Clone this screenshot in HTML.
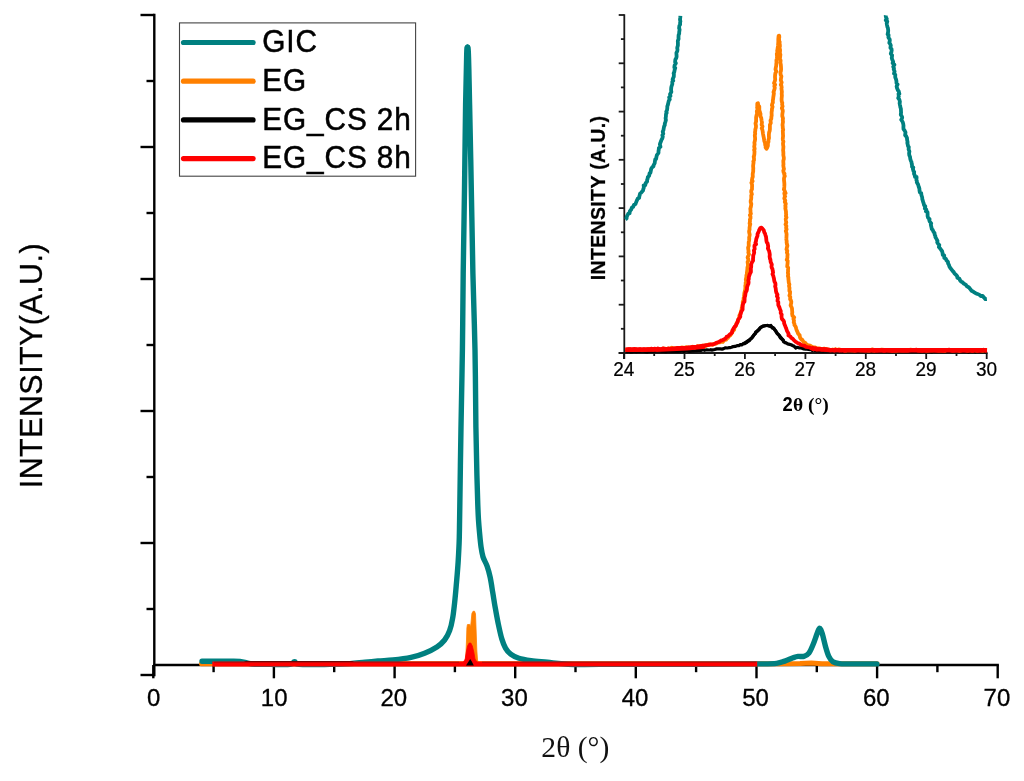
<!DOCTYPE html>
<html><head><meta charset="utf-8"><title>XRD</title>
<style>
html,body{margin:0;padding:0;background:#fff;}
svg{display:block;}
text{white-space:pre;}
</style></head>
<body>
<svg width="1024" height="781" viewBox="0 0 1024 781">
<rect width="1024" height="781" fill="#fff"/>
<g stroke="#000" stroke-width="2.4" fill="none">
<path d="M154.3 13.8V676.2"/>
<path d="M153.2 665H998.9"/>
<path d="M140.5 15.0H154.3"/>
<path d="M146.5 81.0H154.3"/>
<path d="M140.5 147.0H154.3"/>
<path d="M146.5 213.0H154.3"/>
<path d="M140.5 279.0H154.3"/>
<path d="M146.5 345.0H154.3"/>
<path d="M140.5 411.0H154.3"/>
<path d="M146.5 477.0H154.3"/>
<path d="M140.5 543.0H154.3"/>
<path d="M146.5 609.0H154.3"/>
<path d="M140.5 675.0H154.3"/>
<path d="M153.3 665V678.3"/>
<path d="M213.6 665V672.2"/>
<path d="M273.9 665V678.3"/>
<path d="M334.2 665V672.2"/>
<path d="M394.6 665V678.3"/>
<path d="M454.9 665V672.2"/>
<path d="M515.2 665V678.3"/>
<path d="M575.5 665V672.2"/>
<path d="M635.8 665V678.3"/>
<path d="M696.1 665V672.2"/>
<path d="M756.5 665V678.3"/>
<path d="M816.8 665V672.2"/>
<path d="M877.1 665V678.3"/>
<path d="M937.4 665V672.2"/>
<path d="M997.7 665V678.3"/>
</g>
<g stroke="#1a1a1a" stroke-width="1.8" fill="none">
<path d="M624.3 14.2V359"/>
<path d="M618.7 353H987.5"/>
<path d="M618.7 15.0H624.3"/>
<path d="M620.9 39.1H624.3"/>
<path d="M618.7 63.3H624.3"/>
<path d="M620.9 87.4H624.3"/>
<path d="M618.7 111.6H624.3"/>
<path d="M620.9 135.7H624.3"/>
<path d="M618.7 159.8H624.3"/>
<path d="M620.9 184.0H624.3"/>
<path d="M618.7 208.1H624.3"/>
<path d="M620.9 232.3H624.3"/>
<path d="M618.7 256.4H624.3"/>
<path d="M620.9 280.5H624.3"/>
<path d="M618.7 304.7H624.3"/>
<path d="M620.9 328.8H624.3"/>
<path d="M618.7 353.0H624.3"/>
<path d="M624.0 353V359.0"/>
<path d="M654.2 353V356.0"/>
<path d="M684.5 353V359.0"/>
<path d="M714.7 353V356.0"/>
<path d="M744.9 353V359.0"/>
<path d="M775.1 353V356.0"/>
<path d="M805.4 353V359.0"/>
<path d="M835.6 353V356.0"/>
<path d="M865.8 353V359.0"/>
<path d="M896.0 353V356.0"/>
<path d="M926.2 353V359.0"/>
<path d="M956.5 353V356.0"/>
<path d="M986.7 353V359.0"/>
</g>
<!-- main curves -->
<g fill="none" stroke-width="5" stroke-linejoin="round" stroke-linecap="round">
<path stroke="#ff8000" d="M201.5 663.8L781.0 663.8L800.0 663.6L811.3 662.9L822.0 663.7L834.0 663.8L877.0 663.8"/>
<path stroke="#ff8000" stroke-width="0.8" fill="#ff8000" d="M465.2 664L465.9 655L466.5 640L466.9 628L467.4 624.6L469.7 624.4L470.4 627.5L471 623L471.9 613.5L473 611.3L474.6 611.3L475.5 614L476.1 630L476.8 650L477.5 660L478.8 664Z"/>
<path stroke="#008080" stroke-width="5.4" d="M202.0 661.2C205.8 661.2 218.7 661.3 225.0 661.3C231.3 661.3 236.3 661.1 240.0 661.4C243.7 661.7 244.5 662.5 247.0 663.0C249.5 663.5 251.2 664.1 255.0 664.3C258.8 664.5 264.2 664.4 270.0 664.4C275.8 664.4 285.9 664.9 290.0 664.4C294.1 663.9 293.0 661.6 294.5 661.6C296.0 661.6 293.1 663.9 299.0 664.4C304.9 664.9 321.5 664.5 330.0 664.4C338.5 664.3 344.2 664.0 350.0 663.6C355.8 663.2 360.3 662.6 365.0 662.2C369.7 661.8 373.3 661.4 378.0 661.0C382.7 660.6 387.5 660.6 393.0 660.0C398.5 659.4 405.7 658.5 411.0 657.4C416.3 656.3 420.3 654.9 424.6 653.2C428.9 651.5 433.6 649.2 436.9 647.0C440.2 644.8 442.5 642.7 444.6 640.0C446.7 637.3 448.3 634.3 449.6 630.7C450.9 627.1 451.8 623.2 452.6 618.4C453.5 613.6 454.0 608.1 454.7 602.0C455.4 595.9 456.0 588.3 456.6 581.5C457.2 574.7 457.8 567.8 458.2 561.0C458.6 554.2 459.0 547.3 459.2 540.5C459.4 533.7 459.3 538.9 459.6 520.0C459.9 501.1 460.5 455.3 461.0 427.0C461.5 398.7 462.0 375.6 462.4 350.0C462.8 324.4 462.8 300.3 463.2 273.5C463.6 246.7 464.1 217.2 464.5 189.0C464.9 160.8 465.2 127.0 465.6 104.5C466.0 82.0 466.4 63.5 466.7 54.0C467.0 44.5 467.2 47.6 467.5 47.6C467.8 47.6 468.0 44.5 468.4 54.0C468.8 63.5 469.1 82.0 469.6 104.5C470.1 127.0 470.8 160.8 471.3 189.0C471.9 217.2 472.3 246.7 472.9 273.5C473.5 300.3 474.5 324.4 475.0 350.0C475.5 375.6 475.6 406.2 475.9 427.0C476.2 447.8 476.6 462.0 476.9 475.0C477.2 488.0 477.5 497.5 477.8 505.0C478.1 512.5 478.2 515.5 478.5 520.0C478.8 524.5 479.1 527.9 479.5 532.3C479.9 536.7 480.4 542.5 481.0 546.6C481.6 550.7 482.0 553.6 483.0 556.9C484.0 560.1 485.9 562.7 487.1 566.1C488.3 569.5 489.3 573.1 490.2 577.4C491.1 581.7 491.8 586.6 492.6 591.7C493.5 596.8 494.3 602.6 495.3 608.1C496.3 613.6 497.3 619.4 498.4 624.5C499.5 629.6 500.6 635.0 501.8 638.9C503.0 642.8 504.0 645.5 505.5 648.1C507.0 650.7 508.5 652.5 510.7 654.2C512.9 655.9 515.5 657.2 518.9 658.3C522.3 659.4 526.3 660.0 531.1 660.7C535.9 661.4 541.4 661.7 547.5 662.3C553.6 662.9 559.2 663.9 568.0 664.2C576.8 664.6 578.0 664.4 600.0 664.4C622.0 664.4 673.8 664.3 700.0 664.2C726.2 664.1 744.6 664.0 757.4 663.9C770.1 663.8 771.9 663.9 776.5 663.4C781.1 662.9 782.0 662.0 784.8 661.1C787.6 660.2 790.9 658.6 793.1 657.8C795.3 657.0 796.3 656.6 798.1 656.4C799.9 656.2 802.1 656.9 803.9 656.4C805.7 655.9 807.4 655.0 808.9 653.1C810.4 651.2 811.6 648.1 813.0 644.8C814.4 641.5 816.1 636.0 817.2 633.2C818.3 630.4 818.8 628.2 819.6 628.2C820.4 628.2 821.1 630.2 822.1 633.2C823.1 636.2 824.4 642.6 825.5 646.5C826.6 650.4 827.6 653.9 828.8 656.4C830.0 658.9 831.1 660.6 832.9 661.8C834.7 663.0 835.1 663.2 839.6 663.6C844.1 664.0 853.8 663.9 860.0 663.9C866.2 663.9 874.1 663.9 876.9 663.9"/>
<path stroke="#000" stroke-width="4" d="M246.0 663.1L352.0 663.1"/>
<path stroke="#ff0000" stroke-width="4.9" stroke-linecap="butt" d="M212.3 664.0L757.2 664.0"/>
<path stroke="#4a1a1a" stroke-opacity="0.3" stroke-width="1.6" stroke-linecap="butt" d="M214 662.3H459M482 662.3H756"/>
<path stroke="#ff0000" stroke-width="0.8" fill="#ff0000" d="M461 664L463.5 662L465.2 659L466.3 652L467.6 646L469.2 643L470.8 643L472.3 646L473.8 652L475 659L476.8 662L480 664Z"/>
<path stroke="none" fill="#000" d="M466 665.6L468.6 661.5L470.2 658.9L471.8 661.5L473.8 665.6Z"/>
</g>
<!-- inset curves -->
<g fill="none" stroke-width="3.8" stroke-linejoin="round" stroke-linecap="butt">
<path stroke="#008080" d="M625.4 219.5L626.6 218.4L626.6 217.6L627.0 216.1L628.2 213.8L629.6 213.2L629.8 211.2L631.2 209.6L631.8 207.7L633.1 206.9L634.0 204.8L635.5 204.1L635.7 203.4L636.8 200.6L637.7 198.7L639.2 197.8L639.2 197.1L639.6 195.4L640.1 193.5L641.1 192.8L643.0 190.6L643.3 189.1L643.9 187.3L643.6 185.3L645.2 185.4L645.8 182.8L647.1 181.6L647.1 180.1L647.7 178.3L647.8 177.1L649.1 175.9L649.6 173.1L650.4 173.0L650.9 170.3L651.2 168.8L652.2 167.3L653.5 166.2L653.5 165.4L654.7 163.2L654.8 162.1L655.2 159.5L656.1 159.0L656.5 156.7L656.8 155.3L657.3 154.5L658.5 152.8L658.5 151.3L658.8 149.4L658.9 147.9L660.5 146.7L659.9 144.6L660.1 143.4L661.1 141.0L661.5 139.8L662.3 138.5L662.8 136.6L662.3 135.2L663.3 133.7L662.7 131.8L663.5 129.9L663.6 129.0L664.1 126.3L664.8 125.0L664.8 123.6L665.4 121.8L665.9 120.1L665.6 118.1L665.9 116.7L666.0 114.2L666.7 112.8L666.2 111.8L667.0 110.2L667.3 107.9L667.3 106.4L668.0 104.5L668.4 102.4L668.8 100.8L669.0 100.4L669.8 99.3L669.1 97.4L670.5 96.0L670.0 94.3L671.4 91.9L671.2 91.3L671.1 89.5L671.3 87.2L671.7 85.8L672.3 84.2L672.3 81.8L673.3 80.7L672.6 79.4L673.2 77.8L673.8 76.6L673.9 73.9L673.6 73.4L674.3 71.9L674.7 69.6L675.3 67.9L674.3 67.4L674.6 65.2L675.9 63.3L675.1 62.0L675.4 59.3L676.1 58.4L676.6 56.7L676.5 54.6L676.4 52.8L677.3 51.1L677.5 49.4L677.2 48.0L677.6 46.6L677.9 45.3L677.9 42.7L677.8 41.0L678.6 38.8L678.5 37.5L678.6 35.1L679.2 33.5L679.2 32.1L679.6 29.7L679.1 28.2L679.4 25.6L680.1 24.7L680.1 22.6L680.4 21.4L680.0 19.7L680.1 18.9L680.2 18.0L680.3 17.2L680.4 15.9"/>
<path stroke="#008080" d="M885.8 15.4L885.7 15.9L886.1 17.6L886.8 18.9L885.8 20.2L887.3 21.5L886.7 23.2L887.0 25.1L887.5 27.2L887.9 28.1L888.2 30.6L888.1 32.0L887.6 34.4L888.6 35.0L888.4 37.5L889.7 39.3L889.8 40.6L889.3 42.9L890.3 44.2L890.8 45.4L890.4 47.8L891.5 48.9L891.7 50.2L891.4 52.0L890.8 53.7L892.1 55.2L891.9 57.4L891.7 57.8L892.2 59.5L893.2 61.8L892.6 63.0L894.4 64.7L893.2 66.7L894.0 68.3L893.7 69.3L894.6 71.4L894.0 73.6L895.3 74.7L895.2 76.5L895.3 77.6L896.0 79.2L896.4 80.9L896.5 83.1L897.6 84.4L896.6 86.3L897.0 88.0L897.9 90.2L898.7 91.2L899.4 93.9L898.5 93.8L898.8 96.4L898.2 98.1L899.3 99.4L899.9 101.8L899.6 103.1L899.8 104.3L900.3 106.5L900.3 107.0L900.9 108.8L901.0 111.8L901.1 112.2L900.8 114.7L901.6 116.0L902.2 117.3L902.0 118.5L901.2 119.8L902.7 122.0L903.2 123.8L903.5 125.8L903.4 127.0L903.5 129.1L904.6 130.5L905.5 132.3L905.3 133.8L905.1 135.3L906.1 136.1L907.0 138.1L907.1 139.8L907.6 142.2L907.3 142.8L907.9 145.3L908.1 146.3L908.8 147.1L908.6 149.4L909.4 151.4L909.1 153.3L909.3 155.2L910.0 156.8L910.3 159.0L910.8 160.6L911.4 161.7L911.7 163.7L912.0 164.9L912.0 166.8L913.3 167.5L912.9 168.9L913.6 171.4L914.2 171.8L914.0 173.8L914.7 175.1L915.0 176.9L916.6 176.9L916.4 180.1L916.9 181.1L916.8 182.2L918.1 184.5L918.3 185.2L918.8 187.0L919.4 188.7L919.5 190.4L919.8 192.3L921.2 193.2L921.4 195.0L922.2 197.5L922.3 199.2L922.7 200.2L923.1 201.9L923.7 203.5L924.1 205.3L925.3 206.3L924.8 208.4L926.3 209.6L925.9 211.3L927.5 212.0L927.6 214.2L927.6 216.1L928.0 217.6L929.6 219.1L929.2 219.8L929.6 221.3L931.2 223.4L930.8 224.6L931.3 226.7L931.8 229.1L932.6 229.7L933.6 232.1L934.5 232.9L934.7 234.7L935.4 236.3L935.4 237.3L936.4 238.8L937.5 240.9L937.2 242.3L938.1 243.9L939.3 244.9L938.9 247.1L940.2 248.6L941.2 250.0L942.1 251.2L942.5 252.8L942.8 254.9L944.2 255.4L944.3 257.8L945.9 258.8L946.2 260.0L948.0 262.1L948.1 263.5L948.9 264.7L949.4 266.5L950.5 268.3L951.2 269.1L952.8 271.2L953.5 271.8L954.4 273.3L956.3 275.1L957.1 276.2L957.4 277.8L959.5 278.8L960.0 280.3L961.0 281.4L962.1 281.9L963.8 283.6L965.6 284.6L966.2 285.3L966.7 286.2L969.0 287.5L970.7 289.6L971.5 290.8L973.0 291.5L974.3 292.4L975.6 293.2L977.4 293.9L979.5 294.9L980.8 296.0L982.7 296.0L984.0 297.6L984.7 298.2L985.5 299.2L986.9 299.1"/>
<path stroke="#000" stroke-width="3.2" d="M625.4 351.5L626.1 351.3L627.2 351.6L629.1 351.2L629.6 351.5L630.7 352.0L632.3 351.7L633.4 351.2L635.1 351.4L636.4 351.7L637.8 351.2L640.1 351.4L641.8 351.2L643.5 351.2L645.5 351.7L647.1 351.9L648.9 351.2L651.2 351.5L653.0 351.4L654.9 351.1L656.0 350.9L658.5 350.7L659.7 350.9L662.2 351.4L663.7 351.5L665.9 351.6L667.9 351.0L669.4 351.2L671.2 351.3L672.7 351.4L674.3 351.4L675.9 351.1L677.6 351.4L679.1 351.3L680.0 351.1L682.2 350.5L683.9 351.4L686.2 350.0L688.1 350.9L689.6 351.4L692.1 350.9L693.4 350.8L695.4 350.7L696.6 350.6L698.4 350.5L699.6 350.4L701.4 350.3L702.9 349.8L704.6 350.3L705.3 350.0L706.8 349.8L708.7 350.0L710.4 349.8L710.8 349.7L711.7 350.1L714.7 349.5L716.7 348.9L718.6 348.8L720.4 348.9L722.0 349.1L723.7 348.6L725.5 347.8L727.4 348.0L728.7 347.7L730.0 347.6L731.5 347.3L733.2 346.6L735.1 346.4L737.0 345.7L738.8 345.7L740.3 344.6L742.0 344.8L743.2 343.6L744.7 343.6L747.0 342.3L747.7 341.5L749.5 340.5L750.6 338.9L751.9 337.9L752.9 336.6L754.0 334.7L755.4 333.6L755.6 332.2L757.2 331.2L759.2 329.5L760.0 327.9L760.8 327.2L762.4 326.4L764.4 325.8L766.5 325.5L767.8 325.4L769.4 326.1L770.9 325.5L772.4 328.1L773.7 328.1L774.7 329.8L775.7 330.8L776.2 332.2L777.3 333.8L779.1 335.2L779.4 335.9L780.2 337.7L781.8 339.1L782.9 339.8L783.5 341.6L785.1 342.8L786.0 342.7L787.7 343.9L789.6 344.4L791.1 344.8L792.5 345.5L794.2 346.3L795.9 348.0L796.8 347.3L798.9 347.8L800.6 347.9L802.0 348.3L803.8 349.0L805.5 349.1L807.0 349.2L810.2 349.7L811.4 349.5L812.2 350.3L812.1 350.2L814.0 350.0L814.3 350.3L814.9 350.3L815.0 350.3L815.8 350.3L816.5 350.9L817.7 350.3L818.9 350.8L820.1 350.9L823.0 351.2L825.1 350.6L828.1 350.9L831.8 350.9L835.3 350.6L839.9 351.0L841.3 351.0L842.4 351.4L842.9 350.7L844.1 351.0L845.2 351.2L846.8 351.4L848.0 350.9L849.3 350.8L850.5 350.8L852.2 350.3L853.5 351.3L854.7 351.2L856.2 351.5L858.1 351.1L859.7 350.9L860.8 351.2L861.9 351.2L863.7 351.4L865.3 350.6L866.8 351.1L869.0 351.2L870.4 351.4L872.2 351.1L874.4 351.1L875.4 351.4L877.7 351.0L879.9 351.0L881.6 351.2L884.0 350.6L885.2 351.3L887.3 351.1L888.7 351.6L890.7 351.3L892.7 351.3L894.3 351.0L896.6 351.2L898.9 351.4L900.7 351.2L902.9 351.0L904.4 350.8L906.1 351.5L908.4 350.7L910.4 351.1L912.0 351.3L914.3 351.2L916.6 351.0L918.6 351.1L920.2 351.6L922.3 351.1L924.1 351.3L925.7 351.4L928.1 350.8L929.7 351.5L931.6 351.9L933.5 351.3L935.0 351.2L937.5 351.4L939.6 351.1L942.1 351.5L943.0 351.4L944.2 351.1L947.3 351.1L948.7 350.9L950.7 351.3L952.2 351.5L954.4 351.5L955.1 351.4L957.4 350.9L958.5 351.1L960.5 351.2L962.0 351.3L963.9 351.2L965.5 351.1L966.4 351.3L968.6 352.1L969.1 351.1L970.9 351.3L972.3 351.3L974.2 351.0L975.2 351.8L976.8 350.8L978.4 351.1L979.0 351.1L979.9 351.1L981.4 351.0L981.9 351.1L983.3 350.7L984.5 351.1L985.4 351.7L986.1 351.4L986.9 351.3"/>
<path stroke="#ff8000" d="M625.4 349.8L626.2 349.8L627.7 349.7L628.7 349.4L629.7 349.3L631.2 350.0L632.9 350.0L634.1 349.4L636.0 349.8L638.0 349.6L639.9 349.6L641.6 350.0L643.3 349.6L645.8 349.6L647.5 349.3L649.7 348.8L650.7 349.1L653.3 349.5L654.6 349.0L656.5 349.4L657.8 348.9L659.2 349.3L661.1 349.2L662.9 348.6L664.8 348.7L666.6 349.1L668.2 348.5L670.5 348.8L671.7 347.7L673.6 348.7L675.6 348.2L676.7 348.2L678.7 347.8L680.0 347.8L681.6 347.5L683.1 347.7L684.3 347.9L686.0 347.1L687.3 347.7L689.1 347.7L691.2 347.5L692.8 346.7L695.0 347.5L696.4 346.9L697.6 346.1L699.1 346.8L700.0 346.0L701.4 346.0L704.3 345.4L705.7 346.0L707.5 345.0L708.7 344.5L711.0 344.6L712.7 344.8L714.0 343.9L716.2 343.7L717.8 342.7L719.7 342.4L720.5 341.9L722.8 341.9L724.0 340.1L726.1 339.6L726.7 338.3L727.7 338.0L729.1 336.1L730.2 335.4L731.1 333.9L732.2 332.5L732.7 331.3L734.2 329.7L734.3 327.8L735.4 326.6L736.0 325.1L736.4 323.6L737.4 322.0L738.0 320.9L738.5 319.0L739.4 317.6L739.3 315.8L740.1 314.4L740.4 313.2L741.0 311.8L741.6 309.6L741.8 307.8L742.4 306.5L742.4 305.2L742.9 303.2L742.7 301.9L743.5 300.1L743.6 298.2L743.9 296.8L744.2 294.9L744.3 293.3L744.8 291.1L745.2 289.7L745.4 287.6L745.3 285.8L745.8 284.0L745.6 283.1L746.2 281.7L745.8 279.7L746.0 278.6L746.4 277.0L746.4 275.4L747.1 273.5L746.9 272.7L747.2 270.4L747.4 268.7L747.4 267.7L748.1 265.0L747.9 264.3L747.6 262.1L748.4 260.3L748.2 258.9L747.6 257.5L748.2 256.0L749.0 254.3L748.3 252.6L748.6 251.1L748.2 248.8L748.1 247.6L748.8 245.6L748.7 243.9L748.7 242.3L749.0 241.1L749.3 238.8L749.1 237.8L749.5 235.9L749.7 234.7L749.2 232.5L749.1 231.3L749.6 229.3L749.5 228.0L749.8 225.9L750.3 224.1L749.6 223.6L750.0 221.1L749.9 219.6L750.5 218.3L750.5 216.4L749.9 215.1L750.9 213.7L750.5 212.1L750.5 210.3L750.3 208.7L750.8 207.1L751.0 206.2L751.3 203.9L750.7 202.1L750.7 200.7L751.2 199.0L751.3 197.3L751.2 195.4L751.9 194.2L751.2 191.9L751.3 190.6L752.0 189.2L752.0 187.6L752.1 186.0L752.0 184.2L751.4 182.7L752.6 181.2L751.9 180.3L752.3 178.0L752.8 176.7L752.7 174.9L752.7 173.9L752.9 172.9L753.2 171.4L753.2 169.5L753.3 168.4L753.1 166.0L753.4 163.5L753.6 162.8L753.3 161.4L754.0 160.2L754.0 158.4L753.7 156.7L754.1 155.9L754.4 154.0L754.5 151.3L754.1 149.9L754.7 148.8L754.2 146.5L754.6 144.5L754.4 142.6L754.9 140.8L755.1 139.3L755.1 138.0L754.8 135.5L755.2 133.8L755.0 132.4L755.3 130.5L755.3 129.6L755.9 127.4L756.0 126.2L755.5 123.4L756.1 121.5L756.1 119.7L756.1 117.3L756.5 115.4L757.1 113.6L756.8 111.1L757.6 109.6L757.1 107.4L757.4 106.2L757.2 104.9L757.4 104.4L757.3 103.6L758.0 103.3L757.9 103.7L758.1 104.7L758.5 105.7L759.3 106.4L759.3 108.2L759.3 110.0L759.9 112.2L760.5 113.8L760.4 116.4L761.2 117.7L761.6 120.5L762.0 122.5L761.6 124.6L762.5 126.4L761.7 128.2L762.3 129.6L762.7 131.4L763.0 133.8L763.5 136.3L763.9 138.2L764.3 141.1L765.0 142.9L765.2 145.0L765.8 146.8L765.6 147.4L766.5 148.8L766.8 148.0L766.6 147.5L767.1 148.1L767.1 147.4L767.7 146.5L767.9 145.8L767.9 144.5L768.0 142.7L768.5 141.8L768.4 140.2L769.0 137.9L768.9 136.3L768.9 134.7L769.1 132.5L769.7 130.8L769.9 129.3L769.9 126.7L769.9 124.8L770.8 123.0L770.5 120.6L771.3 118.8L771.4 116.7L771.7 115.5L771.6 113.5L771.6 112.2L771.9 110.6L771.9 109.1L772.6 106.8L771.9 105.3L772.3 103.6L772.9 102.5L772.8 100.6L773.1 99.2L773.3 97.3L773.6 95.4L773.9 93.2L773.5 92.2L774.1 90.4L774.6 88.8L774.8 87.7L774.3 86.1L775.1 84.7L774.0 83.2L774.9 80.8L775.2 79.4L775.1 78.3L775.0 77.0L775.1 75.0L775.4 73.1L776.3 71.3L775.5 69.4L775.8 67.6L776.2 65.8L776.3 63.8L776.5 62.5L776.4 60.5L776.7 59.1L777.1 56.9L776.9 55.0L776.8 53.9L777.4 52.7L777.2 50.6L777.5 49.6L777.6 48.4L777.8 47.4L778.0 46.0L778.3 42.0L778.3 39.2L778.6 35.8L779.2 35.7L779.3 37.2L779.2 37.7L778.9 39.1L779.1 39.5L779.2 41.3L779.7 41.9L779.5 43.5L779.8 44.3L779.9 46.2L779.5 47.8L780.1 50.1L780.0 51.5L779.8 53.3L780.4 54.6L780.1 57.2L779.8 58.8L780.6 60.4L780.4 62.9L780.8 64.5L781.0 67.0L781.1 69.3L780.9 71.1L780.4 72.5L780.7 74.8L781.4 76.3L781.1 77.8L780.8 80.1L781.3 81.6L781.7 82.4L780.8 84.8L781.3 85.3L781.7 87.3L781.4 88.7L781.7 90.4L781.9 91.8L781.7 93.7L781.9 95.5L781.8 96.7L781.6 98.8L781.6 100.1L781.8 101.7L782.3 102.8L782.1 104.4L782.6 106.4L781.8 108.0L782.7 110.3L782.8 111.3L782.4 113.7L782.3 114.8L782.3 116.2L783.0 118.4L782.8 120.0L783.0 121.9L782.8 123.0L782.5 125.1L782.7 125.9L782.8 128.0L783.2 129.9L782.8 131.0L782.9 132.6L783.0 134.8L783.1 135.9L782.8 138.5L782.9 140.0L783.4 141.5L783.0 143.4L783.1 145.0L783.4 146.6L783.3 148.5L783.1 150.3L783.3 151.6L783.4 153.8L783.3 155.0L783.8 157.5L783.8 159.1L783.3 160.8L783.4 163.1L783.5 164.2L783.3 165.3L783.6 167.5L784.0 168.9L783.3 170.7L783.6 172.4L784.5 173.6L784.2 174.4L784.8 176.2L784.3 177.2L784.0 178.4L784.0 180.0L784.3 182.7L784.4 184.4L784.3 186.9L784.2 188.3L783.9 189.3L784.7 190.9L785.6 193.1L784.3 193.3L784.8 195.5L785.2 196.3L784.6 197.3L784.3 198.5L785.3 200.6L784.8 202.0L785.8 203.7L785.3 205.8L785.6 207.0L785.3 208.2L785.6 209.7L786.0 211.6L786.0 213.5L786.2 214.8L785.9 216.0L786.5 217.4L785.7 219.0L786.0 221.1L786.3 222.6L785.5 224.4L786.4 226.0L786.1 227.9L786.6 229.4L785.8 230.9L786.2 232.2L786.6 234.2L786.5 236.2L786.4 238.2L786.3 239.2L786.7 241.2L786.6 242.2L786.9 244.2L787.4 245.7L786.9 247.4L786.5 249.4L787.3 250.8L786.9 252.5L787.6 254.4L787.4 256.1L787.4 257.9L786.7 259.8L787.7 260.8L787.6 263.0L787.4 264.7L787.2 266.5L788.2 267.7L788.0 270.1L788.1 271.1L787.9 272.8L788.2 274.5L787.9 276.1L788.4 277.5L788.4 278.7L788.6 280.6L788.8 282.8L789.4 284.4L789.0 285.9L789.5 288.0L789.4 289.3L789.4 291.0L790.1 291.6L790.0 293.8L789.4 295.6L790.3 297.1L790.1 299.2L790.7 299.9L791.3 301.6L791.2 303.2L790.6 305.3L791.4 306.8L792.0 308.4L792.1 310.6L792.3 312.3L792.1 313.6L792.5 315.8L794.2 317.4L793.4 318.9L794.0 320.7L793.7 322.3L794.4 323.6L794.4 324.9L795.7 326.8L796.3 329.1L796.9 330.8L797.6 332.3L798.1 333.6L799.7 335.3L799.7 336.3L800.3 338.0L801.5 339.6L802.3 339.9L803.4 341.8L805.3 342.9L805.9 343.9L807.6 345.0L809.7 345.5L811.5 346.5L812.8 347.0L815.0 347.4L816.0 348.0L817.5 348.4L819.8 348.3L821.4 349.2L822.5 349.2L824.2 348.6L825.8 349.0L826.6 349.1L828.5 349.6L830.3 350.0L832.7 349.5L834.7 349.9L835.6 349.2L836.9 350.1L838.1 349.9L838.8 349.3L839.6 349.5L840.7 350.0L841.3 350.2L842.4 350.2L843.4 350.0L844.1 350.3L846.4 350.5L847.6 350.4L849.5 350.3L851.7 350.3L855.1 350.5L858.0 350.0L860.8 350.3L865.2 350.2L866.3 350.1L867.5 350.6L867.9 350.5L869.3 350.6L870.5 350.4L872.1 349.5L872.6 350.4L874.5 350.6L876.0 349.9L877.5 350.1L878.8 350.2L880.5 349.9L881.6 349.7L884.2 350.0L884.9 350.0L886.6 350.2L888.6 350.4L890.2 350.2L891.8 350.7L893.6 350.4L894.8 350.5L897.3 350.7L898.2 350.3L900.8 350.4L902.5 350.4L904.8 350.3L906.4 350.3L908.3 350.3L910.1 349.7L912.6 349.8L914.1 349.9L916.0 350.0L918.0 350.1L919.6 350.4L922.3 350.4L923.9 350.0L925.8 350.5L927.6 350.6L929.8 350.4L931.6 350.2L933.7 350.4L935.7 350.0L937.3 350.3L938.9 350.6L941.4 350.3L943.0 350.6L945.0 350.9L947.1 349.9L949.1 350.1L950.5 350.2L952.4 350.4L954.5 350.4L955.8 349.9L957.5 350.4L959.7 350.8L960.8 350.3L962.8 350.2L964.5 350.2L966.0 350.1L967.7 350.6L969.6 350.1L970.3 350.2L971.8 350.6L973.2 350.3L974.5 350.2L976.3 350.7L977.3 350.4L978.1 349.9L979.7 350.1L981.2 350.5L981.7 350.4L982.9 350.8L984.3 350.3L985.1 350.3L986.1 350.1L986.9 350.3"/>
<path stroke="#ff0000" d="M625.4 349.5L626.5 349.6L627.6 349.4L628.7 349.2L630.9 349.2L631.2 349.7L633.2 349.2L634.0 349.0L635.9 349.1L637.9 349.7L640.1 349.1L641.8 349.6L644.0 349.2L645.3 349.5L647.9 349.1L649.9 349.7L651.1 348.7L652.8 349.1L655.0 348.6L657.3 349.8L658.0 348.5L659.7 349.1L661.6 349.2L663.0 348.3L665.1 349.1L666.6 348.9L668.5 348.7L669.8 348.8L671.3 349.0L673.1 348.7L674.7 348.6L676.4 348.5L677.8 347.8L679.4 348.1L680.5 347.9L681.9 348.0L683.8 347.9L686.1 347.8L686.9 347.9L688.6 347.3L690.8 347.7L691.6 347.1L694.2 346.8L696.4 346.6L698.1 346.4L699.4 346.6L701.0 346.1L702.5 345.7L704.6 345.9L705.5 345.1L708.0 345.0L709.0 344.9L710.8 344.3L713.0 344.3L714.3 344.0L715.8 343.0L717.2 342.5L718.8 342.0L719.8 341.3L721.3 340.4L722.8 340.0L724.3 339.3L726.0 338.0L726.6 336.8L728.1 336.2L729.7 334.4L730.7 333.9L732.1 332.4L732.3 330.7L733.0 329.4L733.8 328.1L734.5 326.9L735.8 325.6L736.5 324.2L737.6 321.9L737.9 320.4L738.3 319.4L739.1 318.4L740.3 316.7L740.2 315.2L740.7 313.9L741.0 312.5L741.6 311.0L742.6 309.6L742.6 306.9L742.7 305.4L743.1 303.6L743.8 302.3L744.5 301.6L744.6 299.5L744.6 297.8L745.2 295.7L745.3 294.7L745.7 292.1L746.6 290.8L747.0 289.0L747.0 287.5L747.7 285.2L748.4 283.9L748.6 282.0L748.3 280.4L748.8 279.1L748.8 277.2L749.3 275.5L750.0 273.5L750.9 272.0L750.9 270.0L750.8 268.7L751.2 266.9L751.2 264.4L751.6 263.4L752.0 262.2L753.1 260.6L753.0 258.9L753.2 257.3L753.2 255.3L753.7 254.3L754.2 252.5L753.9 250.4L754.7 248.9L754.4 246.6L754.5 245.5L756.1 244.2L755.4 242.9L755.9 241.5L756.3 238.9L756.8 237.5L757.5 235.8L757.5 234.1L758.3 232.4L759.0 231.0L759.1 230.1L760.3 228.0L761.5 227.6L762.1 228.4L763.6 230.0L763.8 230.3L764.2 232.2L765.0 233.5L765.5 235.3L766.0 236.7L766.2 238.3L766.4 240.7L766.7 242.1L767.6 243.4L768.0 245.3L768.2 246.7L767.9 248.4L768.7 250.1L769.1 250.9L769.6 253.3L769.8 254.8L769.6 256.5L770.0 258.9L770.4 259.3L770.6 261.7L770.8 262.2L771.8 264.6L771.5 266.3L771.6 267.3L772.5 269.1L772.7 270.8L773.1 272.4L772.5 274.2L773.3 275.8L773.7 277.6L773.9 278.1L774.2 280.4L774.5 281.7L775.4 283.4L775.5 285.1L775.1 286.3L775.7 288.3L775.8 289.4L776.0 291.2L776.4 292.8L777.5 294.7L776.9 296.2L777.9 298.0L777.7 299.0L777.5 300.9L778.3 302.0L778.3 304.0L778.3 305.0L779.4 307.4L780.0 309.3L780.8 311.0L780.7 313.1L781.7 314.5L781.5 316.0L781.6 317.4L781.9 318.9L783.5 320.6L784.1 322.0L784.1 323.3L785.0 325.4L785.9 327.8L786.3 328.7L787.0 331.0L787.8 332.2L788.6 333.9L788.4 335.4L790.5 336.6L791.2 337.9L792.7 338.7L794.1 340.4L795.7 341.7L796.9 342.6L798.4 343.4L799.8 343.9L800.8 344.7L802.3 345.3L804.5 345.6L805.8 346.9L807.9 347.2L809.6 347.4L811.3 348.5L812.9 347.8L814.3 348.8L815.8 348.3L817.1 349.5L818.4 349.2L820.0 348.8L821.9 349.7L824.1 349.2L825.6 349.3L827.2 349.9L830.5 350.3L831.1 350.3L832.7 349.8L833.5 349.9L834.5 350.6L835.2 349.7L836.7 350.1L836.8 349.8L838.1 350.0L839.5 350.5L840.5 350.2L841.6 350.5L843.6 350.1L844.5 350.9L846.6 350.0L847.7 350.2L850.7 350.1L852.6 350.1L855.5 350.7L857.9 350.2L861.4 350.1L864.7 350.6L866.1 350.5L867.6 350.2L868.5 350.2L869.5 350.4L870.7 349.9L872.5 350.4L873.1 349.7L874.8 350.5L876.5 350.7L877.6 350.5L878.7 350.4L881.0 350.2L882.2 350.4L883.9 350.8L885.1 350.8L886.7 350.2L888.6 350.3L890.4 350.5L892.3 351.0L894.1 350.3L895.9 350.5L897.5 350.0L899.2 350.4L901.5 350.5L903.1 350.5L904.8 350.4L907.3 350.7L909.2 350.3L910.7 350.1L912.9 350.2L914.1 350.2L916.6 349.7L918.0 350.7L920.4 350.3L921.8 350.8L924.6 350.6L925.9 350.5L928.5 350.3L930.0 350.2L932.2 350.3L933.9 349.9L935.4 350.6L938.3 350.6L940.2 350.2L941.6 350.5L943.5 350.8L945.0 350.2L947.1 350.1L949.3 349.7L951.2 350.6L952.8 350.8L955.2 350.4L956.4 350.5L958.1 350.2L959.4 350.5L961.2 350.6L963.2 350.2L964.7 350.4L966.1 350.7L967.8 350.4L968.7 350.5L970.3 350.2L972.7 350.9L973.5 350.0L975.1 350.2L976.4 349.9L977.9 350.8L978.4 350.1L979.8 350.6L980.6 350.4L982.2 350.1L983.5 349.7L983.9 350.1L985.4 350.2L985.9 350.5L986.9 350.3"/>
<path stroke="#ff0000" stroke-width="4.5" d="M625.4 349.8L661 349.4L687 348.3L705 346.6"/>
<path stroke="#ff0000" stroke-width="4.5" d="M812 348.8L830 350L865 350.3L986.9 350.3"/>
<path stroke="#000" stroke-width="3.2" d="M743.2 343.9C746 342 748 341 750.8 338.8C753 336.5 755 333.5 757.2 331.1C759 329 760.5 327.3 762.4 326.5C763.7 326 765 325.5 766.2 325.5C768.5 325.5 770.5 326 772.6 327.3C774.5 329 776 331.5 777.7 333.7C780 336.5 782 339 784.1 341.3"/>
</g>
<!-- legend -->
<rect x="179.5" y="22.9" width="236.1" height="153.3" fill="#fff" stroke="#444" stroke-width="1.1"/>
<g stroke-width="5.2" stroke-linecap="round" fill="none">
<path stroke="#008080" d="M183.5 42.5H253.1"/>
<path stroke="#ff8000" d="M183.5 81.2H253.1"/>
<path stroke="#000" d="M183.5 119.9H253.1"/>
<path stroke="#ff0000" d="M183.5 158.6H253.1"/>
</g>
<g font-family="'Liberation Sans', Arial, sans-serif" font-size="29.8" fill="#000" stroke="#000" stroke-width="0.5" letter-spacing="0.9">
<text transform="translate(262.2 52.2) scale(1 1.035)">GIC</text>
<text transform="translate(262.2 90.9) scale(1 1.035)">EG</text>
<text transform="translate(262.2 129.6) scale(1 1.035)">EG_CS 2h</text>
<text transform="translate(262.2 168.3) scale(1 1.035)">EG_CS 8h</text>
</g>
<g font-family="'Liberation Sans', Arial, sans-serif" font-size="24" fill="#000" stroke="#000" stroke-width="0.3" text-anchor="middle">
<text x="153.6" y="706">0</text>
<text x="274.2" y="706">10</text>
<text x="393.8" y="706">20</text>
<text x="514.4" y="706">30</text>
<text x="635.0" y="706">40</text>
<text x="755.6" y="706">50</text>
<text x="876.3" y="706">60</text>
<text x="996.9" y="706">70</text>
</g>
<g font-family="'Liberation Sans', Arial, sans-serif" font-size="19" fill="#000" stroke="#000" stroke-width="0.2" text-anchor="middle">
<text transform="translate(623.8 376.2) scale(1 1.09)">24</text>
<text transform="translate(684.2 376.2) scale(1 1.09)">25</text>
<text transform="translate(744.7 376.2) scale(1 1.09)">26</text>
<text transform="translate(805.1 376.2) scale(1 1.09)">27</text>
<text transform="translate(865.6 376.2) scale(1 1.09)">28</text>
<text transform="translate(926.0 376.2) scale(1 1.09)">29</text>
<text transform="translate(986.5 376.2) scale(1 1.09)">30</text>
</g>
<text font-family="'Liberation Sans', Arial, sans-serif" font-size="30.5" fill="#000" stroke="#000" stroke-width="0.3" letter-spacing="0.43" text-anchor="middle" transform="translate(42.2 365.6) rotate(-90) scale(1 1.04)">INTENSITY(A.U.)</text>
<text font-family="'Liberation Serif', 'Times New Roman', serif" font-size="29.6" fill="#111" text-anchor="middle" transform="translate(575.3 757.3) scale(1 1.03)">2θ (°)</text>
<text font-family="'Liberation Sans', Arial, sans-serif" font-weight="bold" font-size="19.5" fill="#000" stroke="#000" stroke-width="0.25" letter-spacing="0.36" text-anchor="middle" transform="translate(605.4 198) rotate(-90) scale(1 1.03)">INTENSITY (A.U.)</text>
<text font-family="'Liberation Sans', Arial, sans-serif" font-weight="bold" font-size="18.4" fill="#000" transform="translate(782.6 411.4) scale(1 1.09)">2</text>
<text font-family="'Liberation Serif', 'Times New Roman', serif" font-weight="bold" font-size="19.5" fill="#000" x="793" y="411.4">θ (°)</text>
</svg>
</body></html>
